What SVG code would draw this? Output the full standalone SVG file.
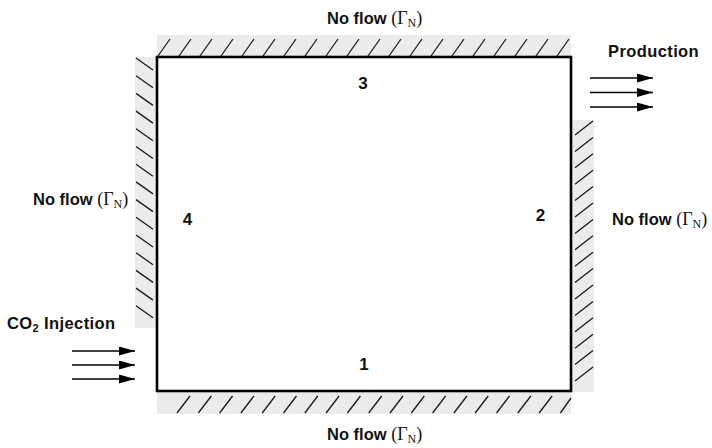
<svg xmlns="http://www.w3.org/2000/svg" width="712" height="448" viewBox="0 0 712 448">
<defs>
<style>
.band{fill:#ebebeb;stroke:none}
.hatch line{stroke:#1a1a1a;stroke-width:1.3}
.b{font-family:"Liberation Sans",Arial,sans-serif;font-weight:bold;font-size:16.5px;fill:#111}
.s{font-family:"Liberation Serif","Times New Roman",serif;font-weight:normal;font-size:18px}
.sub{font-family:"Liberation Serif","Times New Roman",serif;font-weight:normal;font-size:12px}
.num{font-family:"Liberation Sans",Arial,sans-serif;font-weight:bold;font-size:17px;fill:#111;text-anchor:middle}
.arrow{stroke:#000;stroke-width:1.6;fill:none}
</style>
<marker id="ah" viewBox="0 0 16 9" refX="16" refY="4.5" markerWidth="16" markerHeight="9" markerUnits="userSpaceOnUse" orient="auto">
<path d="M0,0 L16,4.5 L0,9 Z" fill="#000"/>
</marker>
</defs>
<rect width="712" height="448" fill="#fff"/>

<g id="boundary-top">
<rect class="band" x="157" y="35" width="414" height="22"/>
<g class="hatch">
<line x1="158" y1="56" x2="170" y2="39"/><line x1="179" y1="56" x2="191" y2="39"/><line x1="200" y1="56" x2="212" y2="39"/><line x1="221" y1="56" x2="233" y2="39"/><line x1="242" y1="56" x2="254" y2="39"/><line x1="263" y1="56" x2="275" y2="39"/><line x1="284" y1="56" x2="296" y2="39"/><line x1="305" y1="56" x2="317" y2="39"/><line x1="326" y1="56" x2="338" y2="39"/><line x1="347" y1="56" x2="359" y2="39"/><line x1="368" y1="56" x2="380" y2="39"/><line x1="389" y1="56" x2="401" y2="39"/><line x1="410" y1="56" x2="422" y2="39"/><line x1="431" y1="56" x2="443" y2="39"/><line x1="452" y1="56" x2="464" y2="39"/><line x1="473" y1="56" x2="485" y2="39"/><line x1="494" y1="56" x2="506" y2="39"/><line x1="515" y1="56" x2="527" y2="39"/><line x1="536" y1="56" x2="548" y2="39"/><line x1="557" y1="56" x2="569" y2="39"/>
</g>
<text class="b" x="327" y="24">No flow <tspan class="s">(Γ</tspan><tspan class="sub" dy="3">N</tspan><tspan class="s" dy="-3">)</tspan></text>
<text class="num" x="363" y="89">3</text>
</g>

<g id="boundary-left">
<rect class="band" x="135" y="57" width="22" height="271"/>
<g class="hatch">
<line x1="136" y1="58" x2="153" y2="70"/><line x1="136" y1="75.7" x2="153" y2="87.7"/><line x1="136" y1="93.4" x2="153" y2="105.4"/><line x1="136" y1="111.1" x2="153" y2="123.1"/><line x1="136" y1="128.8" x2="153" y2="140.8"/><line x1="136" y1="146.5" x2="153" y2="158.5"/><line x1="136" y1="164.2" x2="153" y2="176.2"/><line x1="136" y1="181.9" x2="153" y2="193.9"/><line x1="136" y1="199.6" x2="153" y2="211.6"/><line x1="136" y1="217.3" x2="153" y2="229.3"/><line x1="136" y1="235" x2="153" y2="247"/><line x1="136" y1="252.7" x2="153" y2="264.7"/><line x1="136" y1="270.4" x2="153" y2="282.4"/><line x1="136" y1="288.1" x2="153" y2="300.1"/><line x1="136" y1="305.8" x2="153" y2="317.8"/>
</g>
<text class="b" x="33" y="205">No flow <tspan class="s">(Γ</tspan><tspan class="sub" dy="3">N</tspan><tspan class="s" dy="-3">)</tspan></text>
<text class="num" x="187.5" y="225">4</text>
</g>

<g id="boundary-right">
<rect class="band" x="571" y="120" width="23" height="272"/>
<g class="hatch">
<line x1="575" y1="135" x2="593" y2="121"/><line x1="575" y1="151.4" x2="593" y2="137.4"/><line x1="575" y1="167.8" x2="593" y2="153.8"/><line x1="575" y1="184.2" x2="593" y2="170.2"/><line x1="575" y1="200.6" x2="593" y2="186.6"/><line x1="575" y1="217" x2="593" y2="203"/><line x1="575" y1="233.4" x2="593" y2="219.4"/><line x1="575" y1="249.8" x2="593" y2="235.8"/><line x1="575" y1="266.2" x2="593" y2="252.2"/><line x1="575" y1="282.6" x2="593" y2="268.6"/><line x1="575" y1="299" x2="593" y2="285"/><line x1="575" y1="315.4" x2="593" y2="301.4"/><line x1="575" y1="331.8" x2="593" y2="317.8"/><line x1="575" y1="348.2" x2="593" y2="334.2"/><line x1="575" y1="364.6" x2="593" y2="350.6"/><line x1="575" y1="381" x2="593" y2="367"/>
</g>
<text class="b" x="612" y="225">No flow <tspan class="s">(Γ</tspan><tspan class="sub" dy="3">N</tspan><tspan class="s" dy="-3">)</tspan></text>
<text class="num" x="540.5" y="221">2</text>
</g>

<g id="boundary-bottom">
<rect class="band" x="157" y="391" width="414" height="23"/>
<g class="hatch">
<line x1="177" y1="413" x2="190" y2="396"/><line x1="198.3" y1="413" x2="211.3" y2="396"/><line x1="219.6" y1="413" x2="232.6" y2="396"/><line x1="240.9" y1="413" x2="253.9" y2="396"/><line x1="262.2" y1="413" x2="275.2" y2="396"/><line x1="283.5" y1="413" x2="296.5" y2="396"/><line x1="304.8" y1="413" x2="317.8" y2="396"/><line x1="326.1" y1="413" x2="339.1" y2="396"/><line x1="347.4" y1="413" x2="360.4" y2="396"/><line x1="368.7" y1="413" x2="381.7" y2="396"/><line x1="390" y1="413" x2="403" y2="396"/><line x1="411.3" y1="413" x2="424.3" y2="396"/><line x1="432.6" y1="413" x2="445.6" y2="396"/><line x1="453.9" y1="413" x2="466.9" y2="396"/><line x1="475.2" y1="413" x2="488.2" y2="396"/><line x1="496.5" y1="413" x2="509.5" y2="396"/><line x1="517.8" y1="413" x2="530.8" y2="396"/><line x1="539.1" y1="413" x2="552.1" y2="396"/><line x1="560.4" y1="413" x2="571" y2="398"/>
</g>
<text class="b" x="327" y="440">No flow <tspan class="s">(Γ</tspan><tspan class="sub" dy="3">N</tspan><tspan class="s" dy="-3">)</tspan></text>
<text class="num" x="364" y="370">1</text>
</g>

<g id="domain">
<rect x="157" y="57" width="414" height="334" fill="none" stroke="#000" stroke-width="2.6"/>
</g>

<g id="injection">
<text class="b" x="7" y="329" letter-spacing="0.4">CO<tspan font-size="11px" dy="3">2</tspan><tspan dy="-3"> Injection</tspan></text>
</g>

<g id="production">
<text class="b" x="608" y="57" letter-spacing="0.4">Production</text>
</g>

<g id="connectors">
<line class="arrow" x1="72" y1="351" x2="135" y2="351" marker-end="url(#ah)"/>
<line class="arrow" x1="72" y1="365" x2="135" y2="365" marker-end="url(#ah)"/>
<line class="arrow" x1="72" y1="379" x2="135" y2="379" marker-end="url(#ah)"/>
<line class="arrow" x1="590" y1="78" x2="653" y2="78" marker-end="url(#ah)"/>
<line class="arrow" x1="590" y1="92.5" x2="653" y2="92.5" marker-end="url(#ah)"/>
<line class="arrow" x1="590" y1="107" x2="653" y2="107" marker-end="url(#ah)"/>
</g>
</svg>
